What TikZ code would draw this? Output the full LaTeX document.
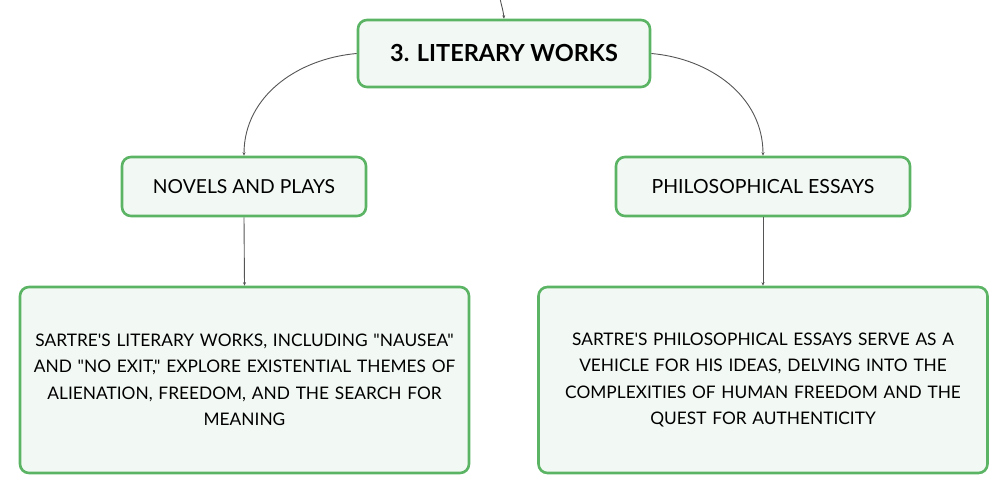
\documentclass[tikz,border=0pt]{standalone}
\usepackage{fontspec}
\setmainfont{Lato}[Ligatures=TeXOff]
\usetikzlibrary{arrows.meta}

\definecolor{boxgreen}{HTML}{5BB464}
\definecolor{boxfill}{HTML}{F2F8F3}
\definecolor{linkgray}{HTML}{555555}

\tikzset{
topic/.style={draw=boxgreen, fill=boxfill, line width=2.6pt, rounded corners=9pt,
  align=center, inner sep=0pt},
link/.style={draw=linkgray, line width=0.9pt, -{Stealth[length=3.5pt,width=3pt]}}
}

\begin{document}
\begin{tikzpicture}[x=1pt,y=-1pt]
\useasboundingbox (0,0) rectangle (1008,494);

\node[topic, minimum width=292pt, minimum height=67pt,
  font=\fontsize{23.5}{26}\selectfont\bfseries] (works) at (504,53.5) {3. LITERARY WORKS};
\node[topic, minimum width=244pt, minimum height=59pt,
  font=\fontsize{19.3}{22}\selectfont] (novels) at (244,186.5) {NOVELS AND PLAYS};
\node[topic, minimum width=294pt, minimum height=59pt,
  font=\fontsize{19.5}{22}\selectfont] (essays) at (763,186.5) {PHILOSOPHICAL ESSAYS};
\node[topic, minimum width=449pt, minimum height=186pt, text width=440pt,
  font=\fontsize{17.3}{26.5}\selectfont] (novelstext) at (244.5,380)
  {SARTRE'S LITERARY WORKS, INCLUDING "NAUSEA"\\ AND "NO EXIT," EXPLORE EXISTENTIAL THEMES OF\\ ALIENATION, FREEDOM, AND THE SEARCH FOR\\ MEANING};
\node[topic, minimum width=449pt, minimum height=186pt, text width=440pt,
  font=\fontsize{17.3}{26.5}\selectfont] (essaystext) at (763,380)
  {SARTRE'S PHILOSOPHICAL ESSAYS SERVE AS A\\ VEHICLE FOR HIS IDEAS, DELVING INTO THE\\ COMPLEXITIES OF HUMAN FREEDOM AND THE\\ QUEST FOR AUTHENTICITY};

\coordinate (parent) at (500,-2);

\draw[link] (parent) to[out=-80,in=95] (works.north);
\draw[link] (works.west) to[out=185,in=90] (novels.north);
\draw[link] (works.east) to[out=-5,in=90] (essays.north);
\draw[link] (novels.south) -- (novelstext.north);
\draw[link] (essays.south) -- (essaystext.north);

\end{tikzpicture}
\end{document}
